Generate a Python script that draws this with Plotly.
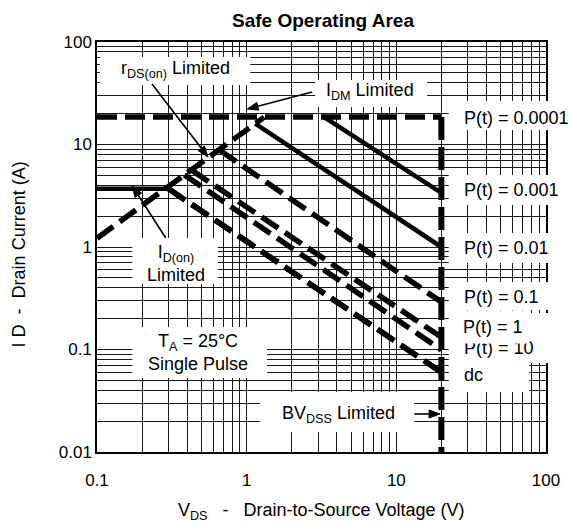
import math
import plotly.graph_objects as go

# Axis ticks
X_TICKS = [0.1, 1, 10, 100]
X_TICK_TEXT = ["0.1", "1", "10", "100"]
Y_TICKS = [0.01, 0.1, 1, 10, 100]
Y_TICK_TEXT = ["0.01", "0.1", "1", "10", "100"]

# Limit boundaries: drain-source voltage (V) vs drain current (A)
IDM_V = [0.1, 20]
IDM_I = [18.5, 18.5]
IDON_V = [0.1, 0.3]
IDON_I = [3.7, 3.7]
RDS_V = [0.1, 1.31]
RDS_I = [1.22, 18.5]
BV_V = [20, 20]
BV_I = [18.5, 0.01]

# Single-pulse power limited lines
PULSE_LABELS = ["P(t) = 0.0001", "P(t) = 0.001", "P(t) = 0.01", "P(t) = 0.1",
                "P(t) = 1", "P(t) = 10", "dc"]
PULSE_V = [[3.29, 20], [1.14, 20], [0.66, 20], [0.43, 20], [0.384, 20], [0.3, 20], [0.3, 20]]
PULSE_I = [[18.5, 3.37], [16.0, 1.0], [8.8, 0.29], [5.6, 0.132], [5.05, 0.099],
           [3.7, 0.06], [3.7, 0.06]]
PULSE_SOLID = [True, True, False, False, False, False, False]

FONT = "Liberation Sans, Arial, Helvetica, sans-serif"
W, H = 572, 525
L, R, T, B = 97, 18, 42, 73
PW, PH = W - L - R, H - T - B


def px(x):
    return (x - L) / PW


def py(y):
    return (H - B - y) / PH


DASH = "20px,8px"
fig = go.Figure()

fig.add_trace(go.Scatter(x=IDM_V, y=IDM_I, mode="lines",
                         line=dict(color="black", width=5.5, dash=DASH)))
fig.add_trace(go.Scatter(x=IDON_V, y=IDON_I, mode="lines",
                         line=dict(color="black", width=4.5)))
fig.add_trace(go.Scatter(x=RDS_V, y=RDS_I, mode="lines",
                         line=dict(color="black", width=5.5, dash=DASH)))
for v, i, solid in zip(PULSE_V, PULSE_I, PULSE_SOLID):
    fig.add_trace(go.Scatter(x=v, y=i, mode="lines",
                             line=dict(color="black", width=4.5 if solid else 5.5,
                                       dash="solid" if solid else DASH)))
fig.add_trace(go.Scatter(x=BV_V, y=BV_I, mode="lines",
                         line=dict(color="black", width=6, dash="23px,7px")))

# white label boxes laid over the grid (pixel extents)
boxes = [
    (100, 57, 253, 85),     # rDS(on)
    (319, 80, 433, 107),    # IDM
    (133, 238, 220, 284),   # ID(on)
    (133, 327, 270, 378),   # TA
    (263, 392, 420, 432),   # BVDSS
    (455, 101, 572, 130),
    (455, 175, 572, 205),
    (455, 233, 572, 263),
    (455, 282, 572, 310),
    (455, 313, 572, 363),
    (455, 363, 537, 392),
]
shapes = []
for x0, y0, x1, y1 in boxes:
    shapes.append(dict(type="rect", xref="paper", yref="paper",
                       x0=px(x0), x1=px(x1), y0=py(y1), y1=py(y0),
                       fillcolor="white", line=dict(width=0), layer="above"))


def arrow(tip, tail, head_len=11, head_half=4):
    dx, dy = tip[0] - tail[0], tip[1] - tail[1]
    n = math.hypot(dx, dy)
    ux, uy = dx / n, dy / n
    bx, by = tip[0] - ux * head_len, tip[1] - uy * head_len
    shapes.append(dict(type="line", xref="paper", yref="paper",
                       x0=px(tail[0]), y0=py(tail[1]), x1=px(bx), y1=py(by),
                       line=dict(color="black", width=1.6), layer="above"))
    pts = [tip, (bx - uy * head_half, by + ux * head_half),
           (bx + uy * head_half, by - ux * head_half)]
    path = "M " + " L ".join(f"{px(a):.5f},{py(b):.5f}" for a, b in pts) + " Z"
    shapes.append(dict(type="path", xref="paper", yref="paper", path=path,
                       fillcolor="black", line=dict(color="black", width=1),
                       layer="above"))


arrow((210, 157), (153, 84))
arrow((250, 109), (316, 92))
arrow((133, 186), (167, 238))
arrow((446, 414), (420, 414))

ann = []


def text(t, x, y, anchor="center", size=18, **kw):
    ann.append(dict(text=t, x=px(x), y=py(y), xref="paper", yref="paper",
                    xanchor=anchor, yanchor="middle", showarrow=False,
                    font=dict(family=FONT, size=size, color="black"), **kw))


text("r<sub>DS(on)</sub> Limited", 177, 70)
text("I<sub>DM</sub> Limited", 375, 91)
text("I<sub>D(on)</sub><br>Limited", 177, 263)
text("T<sub>A</sub> = 25°C<br>Single Pulse", 200, 352)
text("BV<sub>DSS</sub> Limited", 343, 414)

label_y = [118, 190, 248, 297, 327, 348, 375]
order = [0, 1, 2, 3, 5, 4, 6]
for k in order:
    if k == 4:
        # this label's white backing trims the top of the label below it
        text(PULSE_LABELS[k], 462, label_y[k], anchor="left",
             bgcolor="white", borderpad=6)
    else:
        text(PULSE_LABELS[k], 468, label_y[k], anchor="left")

# axis titles
text("V<sub>DS</sub>   -   Drain-to-Source Voltage (V)", 325, 512)
text("I D  -  Drain Current (A)", 18, 254, textangle=-90)

GRID = "#1a1a1a"
x_minor = [m * 10 ** e for e in range(-1, 2) for m in range(2, 10)]
y_minor = [m * 10 ** e for e in range(-2, 2) for m in range(2, 10)]
axis_common = dict(type="log", showgrid=True, gridcolor=GRID, gridwidth=1.3,
                   showline=True, linecolor="black", linewidth=1.5, mirror=True,
                   ticks="", zeroline=False,
                   tickfont=dict(family=FONT, size=17, color="black"))

fig.update_xaxes(range=[-1, 2], tickvals=X_TICKS, ticktext=X_TICK_TEXT,
                 minor=dict(tickvals=x_minor, showgrid=True, gridcolor=GRID, gridwidth=1.3),
                 ticklabelstandoff=12, **axis_common)
fig.update_yaxes(range=[-2, 2], tickvals=Y_TICKS, ticktext=Y_TICK_TEXT,
                 minor=dict(tickvals=y_minor, showgrid=True, gridcolor=GRID, gridwidth=1.3),
                 ticklabelstandoff=0, **axis_common)

fig.update_layout(
    width=W, height=H,
    margin=dict(l=L, r=R, t=T, b=B, pad=0),
    paper_bgcolor="white", plot_bgcolor="white",
    showlegend=False,
    font=dict(family=FONT, color="black"),
    title=dict(text="<b>Safe Operating Area</b>", x=px(327), xref="paper", xanchor="center",
               y=1 - 20 / H, yanchor="middle", font=dict(family=FONT, size=19, color="black")),
    shapes=shapes, annotations=ann,
)

fig.write_html("out.html")
